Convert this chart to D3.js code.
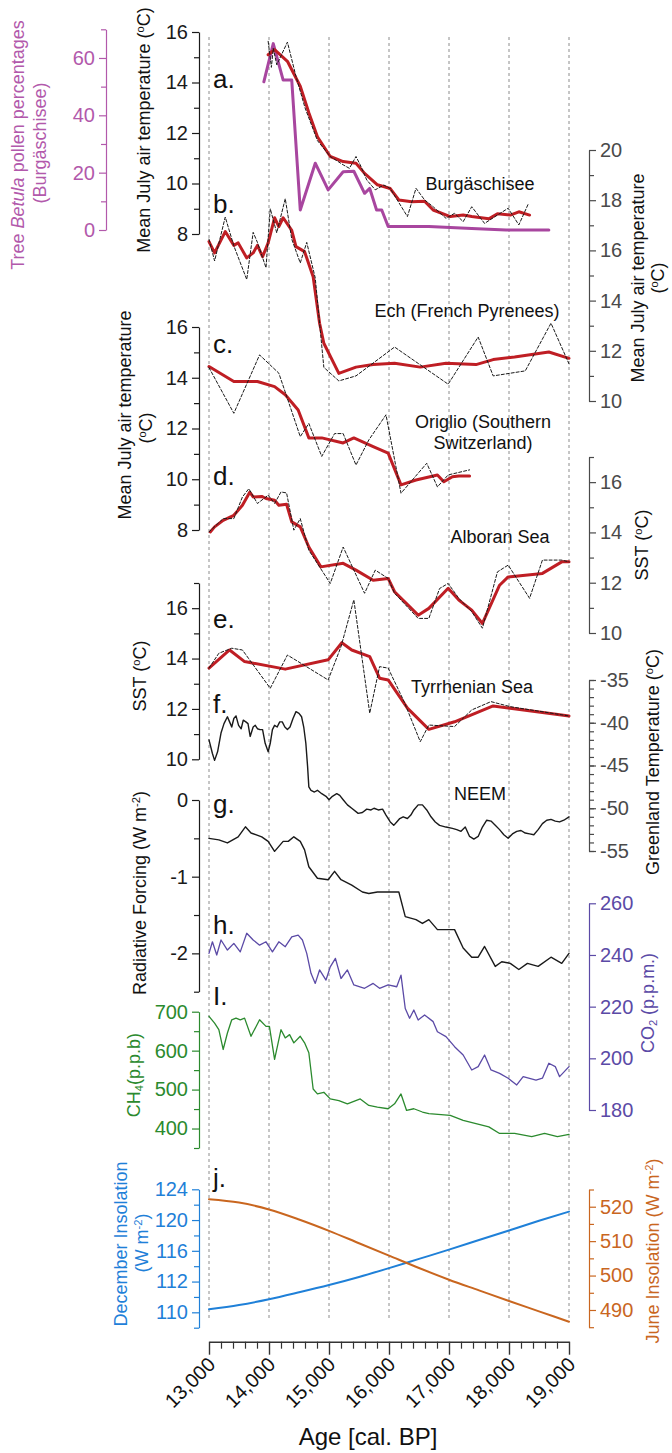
<!DOCTYPE html>
<html><head><meta charset="utf-8">
<script src="https://cdn.jsdelivr.net/npm/d3@7"></script>
<style>
body{margin:0;background:#fff}
svg{display:block}
text{font-family:"Liberation Sans",Arial,Helvetica,sans-serif}
</style>
</head><body>
<svg id="chart" width="672" height="1453"></svg>
<script>
// ---------------- DATA ----------------
const ageTicks = [13000,14000,15000,16000,17000,18000,19000];

// a. Burgäschisee July temperature (red = smoothed, dashed = raw) and Betula pollen
const burgTempSmooth = [[13986,15.1],[14093,15.3],[14307,14.84],[14521,13.85],[14664,12.8],[14807,11.85],[15021,11.07],[15236,10.87],[15450,10.8],[15593,10.4],[15807,9.95],[16021,9.8],[16164,9.35],[16379,9.28],[16593,9.3],[16736,8.95],[17021,8.69],[17236,8.75],[17379,8.69],[17664,8.6],[17807,8.8],[18021,8.75],[18164,8.88],[18343,8.75]];
const burgTempRaw = [[13986,15.63],[14040,14.6],[14071,15.35],[14130,14.7],[14307,15.6],[14450,14.24],[14600,13.0],[14807,11.7],[15021,11.07],[15236,10.74],[15340,10.6],[15450,11.07],[15520,10.74],[15629,10.14],[15771,9.75],[15914,9.94],[16021,9.8],[16307,8.69],[16450,9.81],[16593,9.35],[16736,9.08],[16950,8.62],[17093,8.82],[17236,8.49],[17379,9.08],[17593,8.42],[17807,8.75],[17986,9.02],[18164,8.36],[18321,9.19]];
const betula = [[13914,51.7],[14071,65],[14236,52.3],[14379,52.3],[14521,7],[14771,23.3],[14986,14],[15236,20.3],[15414,20.5],[15593,12.8],[15679,14.5],[15793,7],[15879,7],[15986,1.2],[16664,1.2],[17379,0.5],[17950,0],[18664,0]];

// b. Ech (French Pyrenees)
const echSmooth = [[13000,16.35],[13093,15.9],[13271,16.75],[13414,16.2],[13486,16.3],[13629,15.7],[13736,15.9],[13807,16.2],[13893,15.75],[13986,16.3],[14093,17.3],[14164,16.95],[14236,17.3],[14379,16.8],[14450,16.15],[14593,15.95],[14736,14.95],[14843,13.1],[14914,12.3],[15164,11.1],[15450,11.35],[15736,11.45],[16093,11.5],[16521,11.35],[16950,11.5],[17450,11.45],[17736,11.65],[18093,11.75],[18664,11.95],[19000,11.7]];
const echRaw = [[13000,16.45],[13093,15.58],[13271,17.33],[13414,16.18],[13629,14.84],[13736,16.72],[13807,16.32],[13950,15.31],[14021,17.66],[14129,16.7],[14271,18.06],[14379,16.45],[14521,15.5],[14629,16.32],[14771,14.9],[14843,13.1],[14914,11.34],[15164,10.8],[15450,11.0],[16093,12.15],[16986,10.67],[17486,12.55],[17736,11.0],[18271,11.2],[18700,13.1],[19000,11.48]];

// c. Origlio (Southern Switzerland)
const origlioSmooth = [[13000,14.44],[13414,13.85],[13807,13.85],[14093,13.65],[14271,13.33],[14486,12.73],[14664,11.63],[14879,11.63],[15236,11.43],[15414,11.63],[15736,11.29],[15986,11.03],[16200,9.78],[16450,9.97],[16807,10.17],[16914,9.9],[17057,10.1],[17164,10.13],[17343,10.13]];
const origlioRaw = [[13000,14.4],[13414,12.6],[13843,14.9],[14164,14.18],[14521,11.68],[14664,12.2],[14879,10.9],[15093,11.8],[15236,11.8],[15450,10.56],[15664,11.55],[15950,12.54],[16200,9.45],[16629,10.63],[16807,9.7],[16986,10.17],[17343,10.37]];

// d. Alboran Sea SST
const alboranSmooth = [[13021,14.02],[13093,14.22],[13236,14.48],[13414,14.68],[13557,15.08],[13679,15.6],[13736,15.41],[13879,15.43],[13950,15.35],[14093,15.28],[14164,15.08],[14293,15.12],[14379,14.42],[14521,14.22],[14664,13.42],[14864,12.63],[15236,12.77],[15450,12.5],[15736,12.1],[15986,12.17],[16093,11.64],[16486,10.71],[16664,10.98],[16986,11.78],[17164,11.31],[17379,10.91],[17557,10.38],[17843,11.9],[17986,12.23],[18557,12.37],[18879,12.83],[19000,12.83]];
const alboranRaw = [[13000,14.02],[13236,14.55],[13414,14.55],[13557,15.41],[13664,15.74],[13807,15.15],[13986,15.48],[14093,15.15],[14200,15.61],[14293,15.57],[14414,14.09],[14521,14.55],[14664,13.29],[15021,11.97],[15236,13.42],[15593,11.58],[15771,12.5],[15986,12.17],[16093,11.58],[16486,10.58],[16664,10.58],[16843,11.77],[16986,11.97],[17164,11.38],[17379,10.85],[17557,10.19],[17807,12.43],[17986,12.7],[18343,11.38],[18557,12.9],[18879,12.9],[19000,12.83]];

// e. Tyrrhenian Sea SST
const tyrrSmooth = [[13000,13.62],[13343,14.34],[13593,13.88],[14271,13.58],[14986,13.95],[15214,14.63],[15379,14.34],[15679,14.08],[15843,13.22],[15986,13.15],[16307,12.03],[16664,11.19],[17093,11.49],[17736,12.12],[19000,11.72]];
const tyrrRaw = [[13000,13.62],[13164,14.21],[13379,14.41],[13557,14.34],[14021,12.82],[14307,14.14],[14486,13.88],[14986,13.15],[15200,14.47],[15414,16.33],[15679,11.83],[15843,13.68],[15986,13.62],[16250,12.3],[16521,10.7],[16664,11.36],[17093,11.3],[17379,11.96],[17700,12.29],[18021,12.09],[19000,11.72]];

// f. NEEM Greenland temperature
const neem = [[13000,-42.0],[13057,-43.6],[13093,-44.4],[13143,-43.4],[13200,-41.2],[13250,-40.1],[13307,-39.3],[13343,-39.9],[13379,-40.5],[13414,-39.5],[13450,-39.2],[13493,-40.3],[13536,-40.7],[13571,-39.7],[13614,-39.9],[13650,-40.1],[13686,-41.6],[13736,-40.5],[13771,-40.3],[13807,-40.7],[13850,-40.8],[13893,-40.8],[13936,-42.4],[13986,-43.4],[14021,-42.4],[14057,-40.8],[14093,-40.3],[14136,-40.5],[14179,-39.9],[14221,-39.9],[14264,-40.5],[14307,-40.8],[14350,-40.5],[14400,-39.5],[14450,-38.7],[14500,-38.9],[14543,-39.3],[14579,-40.5],[14614,-42.4],[14643,-45.1],[14664,-47.5],[14700,-47.9],[14757,-48.1],[14807,-47.9],[14879,-48.3],[14950,-48.6],[15000,-49.0],[15057,-48.6],[15129,-48.3],[15179,-48.5],[15236,-49.0],[15307,-49.6],[15379,-50.0],[15486,-50.6],[15557,-50.5],[15629,-50.1],[15700,-50.2],[15750,-50.0],[15821,-50.2],[15893,-50.1],[15950,-50.8],[16021,-51.6],[16079,-52.0],[16129,-51.6],[16179,-51.2],[16236,-51.0],[16307,-51.2],[16364,-50.8],[16414,-50.2],[16486,-49.6],[16557,-49.6],[16629,-50.2],[16700,-51.0],[16771,-51.6],[16843,-52.0],[16950,-52.2],[17057,-52.35],[17129,-52.5],[17200,-52.7],[17271,-52.2],[17343,-53.3],[17414,-53.6],[17486,-53.3],[17557,-52.2],[17629,-51.4],[17700,-51.5],[17771,-52.0],[17843,-52.5],[17914,-53.1],[17986,-53.5],[18057,-53.0],[18129,-52.7],[18200,-52.6],[18271,-52.9],[18343,-53.0],[18414,-53.1],[18486,-52.5],[18557,-51.8],[18629,-51.4],[18700,-51.3],[18771,-51.5],[18843,-51.6],[18914,-51.4],[19000,-51.0]];

// g. Radiative forcing
const forcing = [[13000,-0.50],[13164,-0.52],[13307,-0.56],[13486,-0.48],[13607,-0.35],[13700,-0.43],[13879,-0.48],[13986,-0.54],[14093,-0.67],[14236,-0.54],[14321,-0.54],[14414,-0.48],[14521,-0.54],[14593,-0.65],[14664,-0.87],[14807,-1.02],[14986,-1.04],[15093,-0.93],[15200,-1.04],[15379,-1.11],[15557,-1.20],[15664,-1.22],[15807,-1.20],[16021,-1.20],[16164,-1.20],[16271,-1.52],[16450,-1.56],[16557,-1.61],[16664,-1.56],[16807,-1.69],[16986,-1.69],[17093,-1.69],[17236,-1.93],[17379,-2.05],[17486,-2.05],[17593,-1.91],[17771,-2.17],[17879,-2.11],[18021,-2.13],[18164,-2.21],[18307,-2.13],[18486,-2.17],[18700,-2.05],[18879,-2.13],[19000,-2.0]];

// h. CO2
const co2 = [[13000,240.6],[13057,245.1],[13129,240.0],[13200,245.8],[13307,241.9],[13414,244.5],[13521,241.2],[13629,248.4],[13736,245.8],[13843,243.8],[13950,245.1],[14057,241.2],[14164,245.1],[14271,243.2],[14379,247.0],[14486,247.7],[14557,245.8],[14629,240.6],[14700,232.9],[14771,229.0],[14843,234.2],[14950,230.3],[15021,235.4],[15107,238.7],[15200,230.9],[15307,234.2],[15414,228.4],[15593,227.1],[15736,229.0],[15843,227.1],[15986,228.4],[16129,227.7],[16200,232.2],[16271,219.3],[16343,215.5],[16414,218.7],[16486,214.8],[16593,216.8],[16736,214.2],[16807,210.3],[16950,208.4],[17093,204.5],[17236,201.3],[17379,195.5],[17486,196.8],[17593,201.3],[17700,195.5],[17843,194.2],[17986,192.3],[18129,189.7],[18236,192.9],[18450,191.6],[18557,192.3],[18664,198.1],[18771,196.8],[18843,192.9],[19000,196.8]];

// i. CH4
const ch4 = [[13000,688],[13093,670.8],[13164,653.8],[13236,603.0],[13307,645.4],[13379,679.2],[13450,683.5],[13521,679.2],[13593,683.5],[13700,636.8],[13843,679.2],[13950,662.2],[14007,662.2],[14093,577.7],[14200,653.8],[14271,632.7],[14343,641.1],[14414,620.0],[14521,636.8],[14593,620.0],[14664,594.7],[14736,501.5],[14807,488.8],[14914,493.1],[15021,476.1],[15164,471.8],[15307,463.5],[15521,476.1],[15664,459.2],[15807,455.1],[15986,450.8],[16093,463.5],[16200,488.8],[16293,446.4],[16414,450.8],[16557,442.4],[16664,438.1],[17021,433.8],[17236,421.1],[17450,412.7],[17664,404.3],[17843,387.3],[18093,387.3],[18379,379.0],[18593,387.3],[18807,379.0],[19000,384.8]];

// j. Insolation
const insolAge = [13000,13500,14000,14500,15000,15500,16000,16500,17000,17500,18000,18500,19000];
const decInsol = [108.4,108.95,109.7,110.6,111.55,112.6,113.75,114.95,116.15,117.4,118.65,119.9,121.1];
const junInsol = [522.2,521.2,519.2,516.3,513.0,509.4,505.8,502.2,498.8,495.7,492.6,489.6,486.6];

// tick values / labels
const ticksA = [8,10,12,14,16], minorA = [9,11,13,15];
const ticksBet = [0,20,40,60], minorBet = [10,30,50,70];
const ticksB = [10,12,14,16,18,20], minorB = [11,13,15,17,19];
const ticksC = [8,10,12,14,16], minorC = [9,11,13,15];
const ticksD = [10,12,14,16], minorD = [11,13,15,17];
const ticksE = [10,12,14,16], minorE = [11,13,15,17];
const ticksF = [-55,-50,-45,-40,-35], minorF = d3.range(-55,-34,1);
const ticksG = [-2,-1,0], minorG = [-2.5,-1.5,-0.5];
const ticksH = [180,200,220,240,260];
const ticksI = [400,500,600,700], minorI = [350,450,550,650];
const ticksJL = [108,112,116,120,124], labelsJL = ["110","112","116","120","124"], minorJL = [106,110,114,118,122];
const ticksJR = [490,500,510,520], minorJR = [485,495,505,515,525];

// ---------------- DRAW ----------------
const svg = d3.select("#chart");
svg.append("rect").attr("width",672).attr("height",1453).attr("fill","#fff");

const x = d3.scaleLinear().domain([13000,19000]).range([209,569]);
const LEFT = 199, RIGHT = 589;

const C = {
  red:"#bf1e24", black:"#1a1a1a", pink:"#b259ab", betula:"#a8469f",
  purple:"#5b4aa6", green:"#2b8a2e", blue:"#1f80d8", orange:"#c9661f", grey:"#4a4a4a"
};

// grid
svg.append("g").selectAll("line").data(ageTicks).join("line")
  .attr("x1",d=>x(d)).attr("x2",d=>x(d)).attr("y1",37).attr("y2",1320)
  .attr("stroke","#8c8c8c").attr("stroke-width",1).attr("stroke-dasharray","3,3");

function yAxis(scale, side, xpos, major, minor, color, fs, labels){
  const ax = (side==="left"?d3.axisLeft(scale):d3.axisRight(scale))
    .tickValues(major).tickSize(7).tickSizeOuter(0).tickPadding(4)
    .tickFormat(labels ? ((d,i)=>labels[i]) : (d=>String(d)));
  const g = svg.append("g").attr("transform",`translate(${xpos},0)`).call(ax);
  g.select(".domain").attr("stroke",color).attr("stroke-width",1.2);
  g.selectAll(".tick line").attr("stroke",color).attr("stroke-width",1.2);
  g.selectAll(".tick text").attr("fill",color).attr("font-size",fs)
    .attr("font-family",'"Liberation Sans",Arial,sans-serif');
  if(minor){
    const am = (side==="left"?d3.axisLeft(scale):d3.axisRight(scale))
      .tickValues(minor).tickSize(5).tickSizeOuter(0).tickFormat("");
    const gm = svg.append("g").attr("transform",`translate(${xpos},0)`).call(am);
    gm.select(".domain").remove();
    gm.selectAll(".tick line").attr("stroke",color).attr("stroke-width",1.2);
  }
}

function vTitle(xpos, ycenter, parts, color, fs){
  const t = svg.append("text").attr("transform",`translate(${xpos},${ycenter}) rotate(-90)`)
    .attr("text-anchor","middle").attr("fill",color).attr("font-size",fs);
  parts.forEach(p=>{
    const s = t.append("tspan").text(p.t);
    if(p.i) s.attr("font-style","italic");
    if(p.sup) s.attr("font-size",fs*0.62).attr("baseline-shift","55%");
    if(p.sub) s.attr("font-size",fs*0.62).attr("baseline-shift","-25%");
  });
  return t;
}
const degC = [{t:"("},{t:"o",sup:true},{t:"C)"}];

function drawLine(data, y, color, w, dash, curve){
  const line = d3.line().x(d=>x(d[0])).y(d=>y(d[1])).curve(curve||d3.curveLinear);
  svg.append("path").datum(data).attr("d",line).attr("fill","none")
    .attr("stroke",color).attr("stroke-width",w).attr("stroke-linejoin","round")
    .attr("stroke-linecap","round").attr("stroke-dasharray",dash||null);
}

function label(txt, xp, yp, fs, anchor){
  svg.append("text").attr("x",xp).attr("y",yp).attr("font-size",fs)
    .attr("text-anchor",anchor||"start").attr("fill","#111").text(txt);
}

// scales for panels
const yA = d3.scaleLinear().domain([8,16]).range([234,32]);
const yBet = d3.scaleLinear().domain([0,70]).range([230,29.3]);
const yB = d3.scaleLinear().domain([10,20]).range([401,150]);
const yC = d3.scaleLinear().domain([8,16]).range([530,327]);
const yD = d3.scaleLinear().domain([10,17]).range([633,457]);
const yE = d3.scaleLinear().domain([10,17]).range([759.3,583]);
const yF = d3.scaleLinear().domain([-55,-35]).range([851,680]);
const yG = d3.scaleLinear().domain([-2.5,0]).range([991.7,800]);
const yH = d3.scaleLinear().domain([180,260]).range([1110,903.3]);
const yI = d3.scaleLinear().domain([350,700]).range([1148,1011.7]);
const yJL = d3.scaleLinear().domain([106,124]).range([1327.7,1189.3]);
const yJR = d3.scaleLinear().domain([485,525]).range([1327.2,1189.5]);

// axes
yAxis(yBet,"left",106,ticksBet,minorBet,C.pink,20);
yAxis(yA,"left",LEFT,ticksA,minorA,C.black,20);
yAxis(yB,"right",RIGHT,ticksB,minorB,C.grey,20);
yAxis(yC,"left",LEFT,ticksC,minorC,C.black,20);
yAxis(yD,"right",RIGHT,ticksD,minorD,C.grey,20);
yAxis(yE,"left",LEFT,ticksE,minorE,C.black,20);
yAxis(yF,"right",RIGHT,ticksF,minorF,C.grey,20);
yAxis(yG,"left",LEFT,ticksG,minorG,C.black,20);
yAxis(yH,"right",RIGHT,ticksH,null,C.purple,20);
yAxis(yI,"left",LEFT,ticksI,minorI,C.green,20);
yAxis(yJL,"left",LEFT,ticksJL,minorJL,C.blue,20,labelsJL);
yAxis(yJR,"right",RIGHT,ticksJR,minorJR,C.orange,20);

// titles
vTitle(24,145,[{t:"Tree "},{t:"Betula",i:true},{t:" pollen percentages"}],C.pink,18);
vTitle(46,143,[{t:"(Burgäschisee)"}],C.pink,18);
vTitle(150,130,[{t:"Mean July air temperature "}].concat(degC),"#111",18);
vTitle(644,278,[{t:"Mean July air temperature"}],"#111",18);
vTitle(664,278,degC,"#111",18);
vTitle(131,415,[{t:"Mean July air temperature"}],"#111",18);
vTitle(152,428,degC,"#111",18);
vTitle(648,545,[{t:"SST "}].concat(degC),"#111",18);
vTitle(146,676,[{t:"SST "}].concat(degC),"#111",18);
vTitle(659,762,[{t:"Greenland Temperature "}].concat(degC),"#111",18);
vTitle(146,893,[{t:"Radiative Forcing (W m"},{t:"-2",sup:true},{t:")"}],"#111",18);
vTitle(654,1003,[{t:"CO"},{t:"2",sub:true},{t:"  (p.p.m.)"}],C.purple,18);
vTitle(140,1075,[{t:"CH"},{t:"4",sub:true},{t:"(p.p.b)"}],C.green,18);
vTitle(127,1244,[{t:"December Insolation"}],C.blue,18);
vTitle(148,1243,[{t:"(W m"},{t:"-2",sup:true},{t:")"}],C.blue,18);
vTitle(659,1251,[{t:"June Insolation (W m"},{t:"-2",sup:true},{t:")"}],C.orange,18);

// series
drawLine(betula, yBet, C.betula, 3);
drawLine(burgTempSmooth, yA, C.red, 3);
drawLine(burgTempRaw, yA, C.black, 1, "3,2");
drawLine(echSmooth, yB, C.red, 3);
drawLine(echRaw, yB, C.black, 1, "3,2");
drawLine(origlioSmooth, yC, C.red, 3);
drawLine(origlioRaw, yC, C.black, 1, "3,2");
drawLine(alboranSmooth, yD, C.red, 3);
drawLine(alboranRaw, yD, C.black, 1, "3,2");
drawLine(tyrrSmooth, yE, C.red, 3);
drawLine(tyrrRaw, yE, C.black, 1, "3,2");
drawLine(neem, yF, C.black, 1.4);
drawLine(forcing, yG, C.black, 1.4);
drawLine(co2, yH, C.purple, 1.3);
drawLine(ch4, yI, C.green, 1.3);
drawLine(insolAge.map((a,i)=>[a,decInsol[i]]), yJL, C.blue, 2, null, d3.curveMonotoneX);
drawLine(insolAge.map((a,i)=>[a,junInsol[i]]), yJR, C.orange, 2, null, d3.curveMonotoneX);

// panel letters
const letters = [["a.",88],["b.",213],["c.",353],["d.",485],["e.",628],["f.",713],["g.",813],["h.",934],["I.",1005],["j.",1187]];
letters.forEach(l=>label(l[0],213,l[1],26));

// site labels
label("Burgäschisee",480,190,18,"middle");
label("Ech (French Pyrenees)",467,317,18,"middle");
label("Origlio (Southern",483,428,18,"middle");
label("Switzerland)",483,449,18,"middle");
label("Alboran Sea",500,543,18,"middle");
label("Tyrrhenian Sea",472,693,18,"middle");
label("NEEM",480,800,18,"middle");

// x axis
const xa = d3.axisBottom(x).tickValues(ageTicks).tickSize(13).tickSizeOuter(0).tickFormat(d3.format(","));
const gx = svg.append("g").attr("transform","translate(0,1341.7)").call(xa);
gx.select(".domain").attr("stroke","#333").attr("stroke-width",1.6);
gx.selectAll(".tick line").attr("stroke","#333").attr("stroke-width",1.4);
gx.selectAll(".tick text").attr("font-size",20).attr("fill","#111")
  .attr("text-anchor","end").attr("dy",null).attr("y",0)
  .attr("transform","translate(7,24) rotate(-45)");
const xm = d3.axisBottom(x).tickValues(d3.range(13000,19001,200).filter(v=>v%1000!==0))
  .tickSize(7).tickSizeOuter(0).tickFormat("");
const gxm = svg.append("g").attr("transform","translate(0,1341.7)").call(xm);
gxm.select(".domain").remove();
gxm.selectAll(".tick line").attr("stroke","#333").attr("stroke-width",1.2);

label("Age [cal. BP]",368,1445,24,"middle");
</script>
</body></html>
